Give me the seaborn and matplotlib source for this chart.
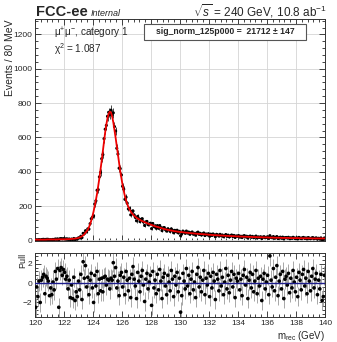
import numpy as np
import pandas as pd
import matplotlib
matplotlib.use("Agg")
import matplotlib.pyplot as plt
import seaborn as sns
from matplotlib.patches import Rectangle
from matplotlib.ticker import MultipleLocator

# fitted model per 80 MeV bin (bin centres 120.04 ... 139.96)
fit_counts = [
    4, 4, 4, 4, 4, 4, 4, 4, 4, 4, 5, 5, 5, 5, 5, 5, 5, 5, 5, 5, 6, 6, 6, 6, 6,
    6, 6, 7, 7, 7, 8, 8, 9, 9, 10, 11, 12, 14, 17, 20, 24, 29, 36, 44, 52, 62, 76, 94, 115, 140,
    168, 200, 235, 272, 315, 362, 412, 465, 520, 578, 630, 675, 712, 738, 750, 745, 722, 688, 645, 598,
    548, 498, 448, 402, 360, 322, 288, 258, 233, 212, 194, 180, 168, 158, 150, 143, 137, 132, 127, 123,
    119, 115, 112, 109, 106, 103, 100, 97, 95, 92,
    90, 87, 85, 82, 80, 78, 76, 74, 72, 70, 68, 66, 64, 63, 61, 60, 58, 57, 56, 54, 53, 52, 51, 50, 49,
    48, 48, 47, 46, 45, 44, 44, 43, 42, 42, 41, 40, 40, 39, 38, 38, 37, 37, 36, 36, 35, 35, 34, 34, 33,
    32, 32, 31, 31, 30, 30, 30, 29, 29, 28, 28, 28, 27, 27, 26, 26, 26, 25, 25, 25, 24, 24, 24, 23, 23,
    23, 22, 22, 22, 21, 21, 21, 21, 20, 20, 20, 20, 19, 19, 19, 19, 18, 18, 18, 18, 18, 17, 17, 17, 17,
    17, 16, 16, 16, 16, 16, 15, 15, 15, 15, 15, 15, 14, 14, 14, 14, 14, 14, 14, 13, 13, 13, 13, 13, 13,
    13, 13, 13, 12, 12, 12, 12, 12, 12, 12, 12, 12, 12, 11, 11, 11, 11, 11, 11, 11, 11, 11, 11, 11, 11,
]

# pull per bin
pulls = [
    -2.5, -0.4, -1.4, 0.2, -2.0, 0.3, 0.6, 0.9, -1.1, 0.7, 0.5, 0.2, -1.3, -0.5, -1.2, 0.1, -0.7, 1.2, 0.4, 1.5, -2.5, 1.3, 1.6, 0.8, 1.4,
    1.1, 0.4, 0.7, -0.6, 0.3, -1.5, -0.2, -1.6, 0.6, -1.8, -0.9, -1.4, 0.2, -0.7, 0.9, -1.7, 2.2, 0.5, 1.8, -0.4, 0.6, -1.2, 0.3, 1.0, -0.5,
    -2.0, 0.8, -0.3, 1.2, -1.1, 0.4, -0.8, 0.5, -0.9, 0.6, 0.7, -0.2, 0.4, 0.3, -0.6, 0.5, 0.3, 2.1, 0.7, 1.6, -0.5, 0.2, -1.3, 0.8, 1.1,
    -0.4, 0.6, -1.2, 1.2, 0.3, -0.8, 0.5, -1.5, 0.9, 1.7, 0.4, -0.3, -1.6, 1.1, 0.2, -0.9, 0.7, 1.3, -0.2, -1.9, 0.4, 1.0, -0.6, 0.1, 0.8,
    -2.3, 1.2, -0.5, 0.3, -1.1, 0.9, -0.7, 1.4, 0.2, -1.6, 0.6, 1.0, -0.3, -1.2, 0.8, 0.1, -0.8, 1.3, 0.4, -1.4, 0.7, -0.2, 1.1, -0.9, 0.5,
    -3.0, -1.3, 1.0, 0.2, -0.6, 1.5, -0.3, 0.8, -1.1, 0.4, 1.2, -0.7, 0.1, -1.5, 0.9, 1.6, -0.4, 0.6, -0.9, 0.3, 1.3, -1.2, 0.5, -0.2, 1.0,
    -1.4, 0.7, -0.5, 1.1, 0.2, -1.7, 0.9, 0.4, -0.8, 1.3, -0.3, 0.6, -1.2, 0.1, 1.5, -0.6, 0.8, -1.0, 0.3, 1.2, -0.4, 0.9, -1.5, 0.5, 0.2,
    1.0, -0.7, 0.4, -1.3, 0.8, 1.4, -0.2, 0.6, -1.6, 0.3, 1.1, -0.5, 0.9, -0.9, 0.2, 1.3, -1.1, 0.5, -0.3, 0.7, -1.8, 0.4, 1.0, -0.6, 0.1,
    0.8, -1.2, 2.8, 0.3, -0.4, 1.5, -0.8, 0.6, 1.8, -1.3, 0.2, 0.9, -0.6, 1.2, -1.6, 0.4, 0.7, -0.2, 1.0, -1.0, 0.5, -0.5, 1.3, 0.1, -0.9,
    0.6, -1.4, 1.1, 0.3, -0.7, 0.9, 1.4, -0.3, 0.5, -1.1, 1.2, 0.2, -0.8, 0.7, 1.5, -0.5, 0.4, 1.0, -1.2, 0.3, -0.6, 0.9, -1.8, -1.4, 0.8,
]

x_lo, x_hi, bin_w = 120.0, 140.0, 0.08
centres = x_lo + bin_w / 2 + bin_w * np.arange(len(fit_counts))

df = pd.DataFrame({"m": centres, "fit": fit_counts, "pull": pulls})
# data = fit + pull * sigma
df["events"] = np.clip(df["fit"] + df["pull"] * np.sqrt(df["fit"]), 0, None)
df["err"] = np.sqrt(np.maximum(df["events"], 1))

sns.set_style("ticks")
plt.rcParams["font.family"] = ["Liberation Sans", "DejaVu Sans"]
plt.rcParams["mathtext.fontset"] = "custom"
plt.rcParams["mathtext.rm"] = "Liberation Sans"
plt.rcParams["mathtext.it"] = "Liberation Sans:italic"
plt.rcParams["mathtext.bf"] = "Liberation Sans:bold"

W, H = 337, 342
fig = plt.figure(figsize=(W / 100, H / 100), dpi=100)

def fx(px):
    return px / W

def fy(py):
    return 1 - py / H

ax = fig.add_axes([fx(35), fy(241), 290 / W, 222 / H])
axp = fig.add_axes([fx(35), fy(317), 290 / W, 64 / H])

# top panel
ax.grid(True, color="#d4d4d4", lw=0.6)
ax.set_axisbelow(True)
ax.errorbar(df["m"], df["events"], yerr=df["err"], fmt="none", ecolor="black", elinewidth=0.5, zorder=2)
sns.scatterplot(data=df, x="m", y="events", ax=ax, color="black", s=5, edgecolor="none", zorder=3)
sns.lineplot(data=df, x="m", y="fit", ax=ax, color="#ee0000", lw=1.3, zorder=4)
ax.set_xlim(x_lo, x_hi)
ax.set_ylim(-4, 1290)
ax.set_xlabel("")
ax.set_ylabel("")
ax.xaxis.set_major_locator(MultipleLocator(2))
ax.xaxis.set_minor_locator(MultipleLocator(0.4))
ax.yaxis.set_major_locator(MultipleLocator(200))
ax.yaxis.set_minor_locator(MultipleLocator(40))
ax.tick_params(which="both", direction="in", top=True, right=True, labelbottom=False, labelsize=6, pad=2, width=0.6)
ax.tick_params(which="major", length=4)
ax.tick_params(which="minor", length=2)

# pull panel
axp.errorbar(df["m"], df["pull"], yerr=1.0, fmt="none", ecolor="#999999", elinewidth=0.6, zorder=2)
sns.scatterplot(data=df, x="m", y="pull", ax=axp, color="black", s=7, edgecolor="none", zorder=3)
axp.axhline(0, color="#1c1c8c", lw=1.0, zorder=4)
axp.set_xlim(x_lo, x_hi)
axp.set_ylim(-3.5, 3.1)
axp.set_xlabel("")
axp.set_ylabel("")
axp.xaxis.set_major_locator(MultipleLocator(2))
axp.xaxis.set_minor_locator(MultipleLocator(0.4))
axp.yaxis.set_major_locator(MultipleLocator(2))
axp.yaxis.set_minor_locator(MultipleLocator(0.4))
axp.tick_params(which="both", direction="in", top=True, right=True, labelsize=6, pad=2, width=0.6)
axp.tick_params(which="major", length=4)
axp.tick_params(which="minor", length=2)

for a in (ax, axp):
    for s in a.spines.values():
        s.set_linewidth(0.7)
        s.set_color("#333333")

# labels
fig.text(fx(10), fy(20), "Events / 80 MeV", rotation=90, ha="center", va="top", fontsize=7.5)
fig.text(fx(23), fy(253), "Pull", rotation=90, ha="center", va="top", fontsize=6.5)
fig.text(fx(325), fy(339), r"m$_{\rm rec}$ (GeV)", ha="right", va="baseline", fontsize=7)

fig.text(fx(36), fy(16), "FCC-ee", fontsize=10.5, fontweight="bold", ha="left", va="baseline")
fig.text(fx(91), fy(16.5), "Internal", fontsize=6.5, style="italic", ha="left", va="baseline")
fig.text(fx(327), fy(16), r"$\sqrt{s}$ = 240 GeV, 10.8 ab$^{-1}$", fontsize=8.5, ha="right", va="baseline")

fig.text(fx(54), fy(37), r"$\mathrm{\mu}^{+}\mathrm{\mu}^{-}$, category 1", fontsize=7.2, ha="left", va="baseline")
fig.text(fx(54), fy(53), r"$\mathrm{\chi}^{2}$ = 1.087", fontsize=7.2, ha="left", va="baseline")

fig.patches.append(Rectangle((fx(144), fy(39.5)), 162 / W, 15.5 / H, transform=fig.transFigure,
                             facecolor="white", edgecolor="#555555", lw=0.8, zorder=5))
fig.text(fx(225), fy(31.5), "sig_norm_125p000 =  21712 \u00b1 147", fontsize=6.2, fontweight="bold",
         ha="center", va="center", zorder=6)

fig.savefig("out.png", dpi=100)
